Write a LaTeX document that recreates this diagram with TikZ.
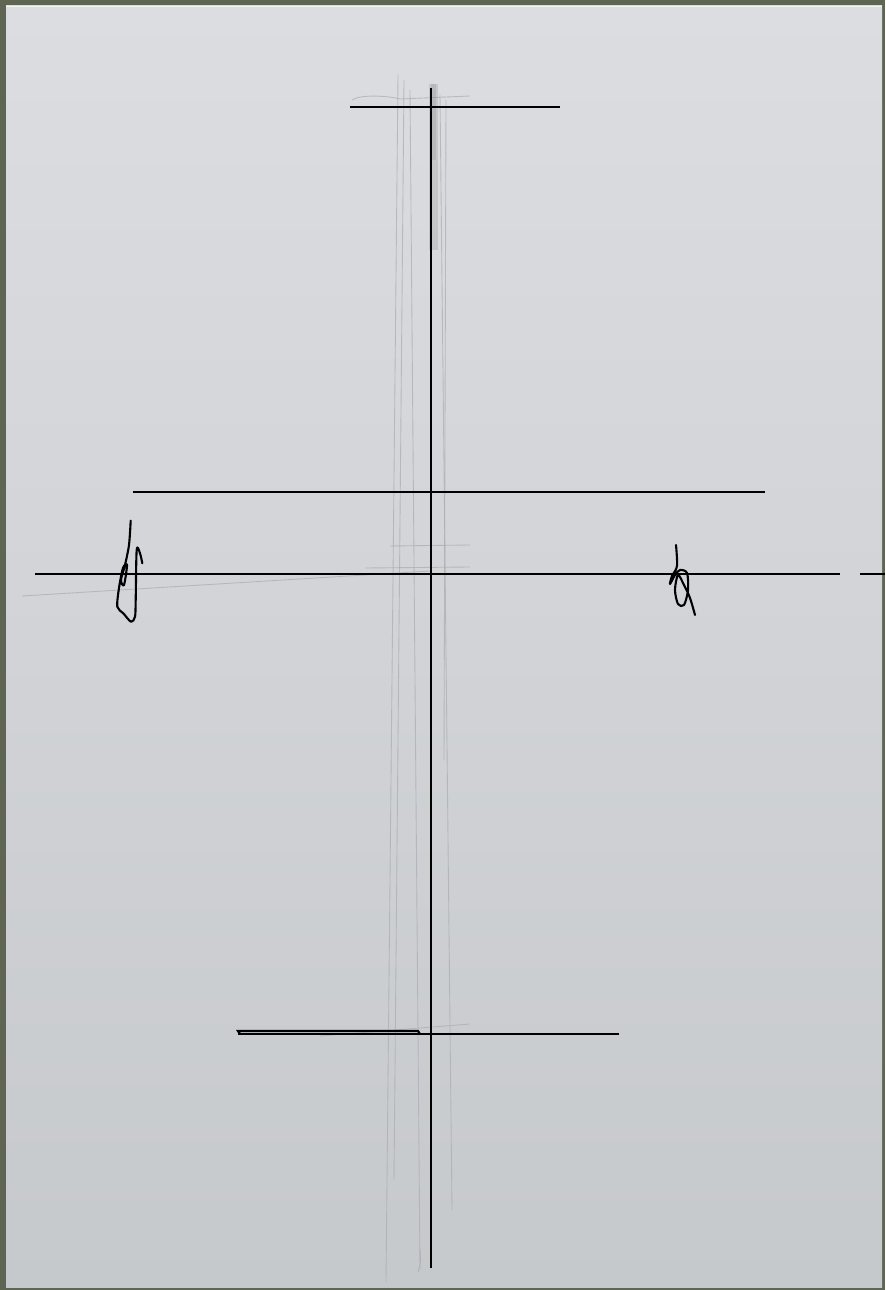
\documentclass[tikz,border=0pt]{standalone}
\usetikzlibrary{positioning}

\definecolor{deskgrey}{HTML}{5E6552}
\definecolor{papertop}{HTML}{DCDDE0}
\definecolor{paperbot}{HTML}{C6C9CC}
\definecolor{pencil}{HTML}{A9ACB0}

\tikzset{
  ink/.style={line width=1.2pt, black},
  pencilline/.style={line width=0.5pt, pencil, opacity=0.7},
  scribble/.style={line width=1.2pt, black, line join=round, line cap=round}
}

\begin{document}
\begin{tikzpicture}[x=0.02cm,y=-0.02cm]

\useasboundingbox (0,0) rectangle (885,1290);
\fill[deskgrey] (0,0) rectangle (885,1290);
\shade[top color=papertop, bottom color=paperbot] (6,6) rectangle (882,1287);
\draw[white, line width=0.8pt, opacity=0.6] (6,6.5) -- (882,6.5);

% pencil guide lines
\draw[pencilline] (398,75) -- (386,1282);
\draw[pencilline] (404,80) -- (394,1180);
\draw[pencilline] (410,90) -- (420,1270);
\draw[pencilline] (440,95) -- (452,1210);
\draw[pencilline] (446,100) -- (444,760);
\draw[pencilline] (352,100) .. controls (360,94) and (390,96) .. (400,99) -- (470,96);
\draw[pencilline] (22,596) -- (430,571);
\draw[pencilline] (390,546) -- (470,545);
\draw[pencilline] (365,568) -- (470,567);
\draw[pencilline] (320,1036) -- (470,1024);
\draw[pencilline] (420,1250) .. controls (421,1262) .. (418,1272);
\fill[black!45, opacity=0.25] (429,84) rectangle (438,250);
\fill[black!45, opacity=0.25] (431,84) rectangle (436,160);

% main lines
\coordinate (top) at (431,88);
\coordinate (bottom) at (431,1268);
\draw[ink] (top) -- (bottom);

\coordinate (A1) at (350,107);
\coordinate (A2) at (560,107);
\draw[ink] (A1) -- (A2);

\coordinate (B1) at (133,492);
\coordinate (B2) at (765,492);
\draw[ink] (B1) -- (B2);

\coordinate (C1) at (35,574);
\coordinate (C2) at (840,574);
\coordinate (C3) at (860,574);
\coordinate (C4) at (885,574);
\draw[ink] (C1) -- (C2);
\draw[ink] (C3) -- (C4);

\coordinate (D1) at (238,1034);
\coordinate (D2) at (619,1034);
\draw[ink] (D1) -- (D2);
\draw[ink] (240,1034) -- (238,1031) -- (418,1031) -- (420,1034);

% scribbles
\draw[scribble] plot[smooth, tension=0.5] coordinates {
  (130.7,520.7) (129,545) (125,565) (121,580) (124,585) (127,565)
  (123,568) (119,588) (117.3,606.7) (123.3,613.3) (131,621.7) (135,616.7)
  (135.7,600) (136.7,550) (140,553.3) (142.3,563.3)};

\draw[scribble] plot[smooth, tension=0.5] coordinates {
  (676,545) (677,566) (672,576) (670,584) (675,575) (680,570)
  (687,573) (688,590) (684,605) (678,604) (675,590) (678,575)
  (684,585) (690,598) (695,615)};

\end{tikzpicture}
\end{document}
